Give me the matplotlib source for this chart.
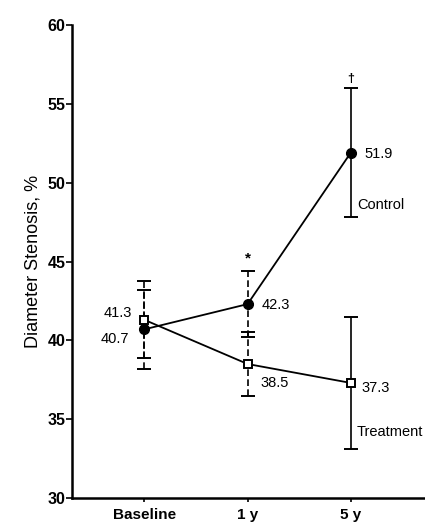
import matplotlib

matplotlib.use("Agg")
import matplotlib.pyplot as plt

time_labels = ["Baseline", "1 y", "5 y"]
control_mean = [40.7, 42.3, 51.9]
control_sd = [2.5, 2.1, 4.1]
treatment_mean = [41.3, 38.5, 37.3]
treatment_sd = [2.45, 2.0, 4.2]

# offsets (points) for the value labels next to each marker
control_offsets = [(-11, -7, "right"), (10, -1, "left"), (10, -1, "left")]
treatment_offsets = [(-9, 5, "right"), (9, -14, "left"), (8, -4, "left")]

plt.rcParams["font.family"] = ["Liberation Sans", "DejaVu Sans"]


def main() -> None:
    fig = plt.figure(figsize=(4.25, 5.27), dpi=100)
    ax = fig.add_axes([0.170, 0.055, 0.830, 0.8975])

    xs = list(range(len(time_labels)))

    ax.plot(xs, control_mean, color="black", lw=1.3, zorder=2)
    ax.plot(xs, treatment_mean, color="black", lw=1.3, zorder=2)

    for i in xs:
        style = (0, (4, 2)) if i < 2 else "-"
        for mean, sd in ((control_mean[i], control_sd[i]), (treatment_mean[i], treatment_sd[i])):
            eb = ax.errorbar(i, mean, yerr=sd, fmt="none", ecolor="black",
                             elinewidth=1.2, capsize=5, capthick=1.4, zorder=1)
            eb[2][0].set_linestyle(style)

    ax.plot(xs, control_mean, "o", color="black", ms=7, zorder=4)
    ax.plot(xs, treatment_mean, "s", mfc="white", mec="black", mew=1.4, ms=6, zorder=4)

    for i in xs:
        dx, dy, ha = control_offsets[i]
        ax.annotate(f"{control_mean[i]}", (i, control_mean[i]), xytext=(dx, dy),
                    textcoords="offset points", ha=ha, va="center", fontsize=10.5)
        dx, dy, ha = treatment_offsets[i]
        ax.annotate(f"{treatment_mean[i]}", (i, treatment_mean[i]), xytext=(dx, dy),
                    textcoords="offset points", ha=ha, va="center", fontsize=10.5)

    ax.annotate("Control", (2, 48.6), xytext=(5, 0), textcoords="offset points",
                ha="left", va="center", fontsize=10.5)
    ax.annotate("Treatment", (2, 34.2), xytext=(4, 0), textcoords="offset points",
                ha="left", va="center", fontsize=10.5)
    ax.text(1, 45.2, "*", ha="center", va="center", fontsize=11, fontweight="bold")
    ax.text(2, 56.6, "\u2020", ha="center", va="center", fontsize=9, fontweight="bold")

    ax.set_xlim(-0.7, 2.72)
    ax.set_ylim(30, 60)
    ax.set_yticks(range(30, 61, 5))
    ax.set_xticks(xs)
    ax.set_xticklabels(time_labels, fontsize=11, fontweight="bold")
    for lab in ax.get_yticklabels():
        lab.set_fontsize(11.5)
        lab.set_fontweight("bold")
    ax.set_ylabel("Diameter Stenosis, %", fontsize=13, labelpad=4)

    ax.spines["top"].set_visible(False)
    ax.spines["right"].set_visible(False)
    ax.spines["left"].set_linewidth(1.8)
    ax.spines["bottom"].set_linewidth(1.8)
    ax.tick_params(axis="y", direction="out", length=4, width=1.2, pad=1)
    ax.tick_params(axis="x", direction="out", length=3, width=1.2, pad=4)

    fig.savefig("out.png", dpi=100)


if __name__ == "__main__":
    main()
